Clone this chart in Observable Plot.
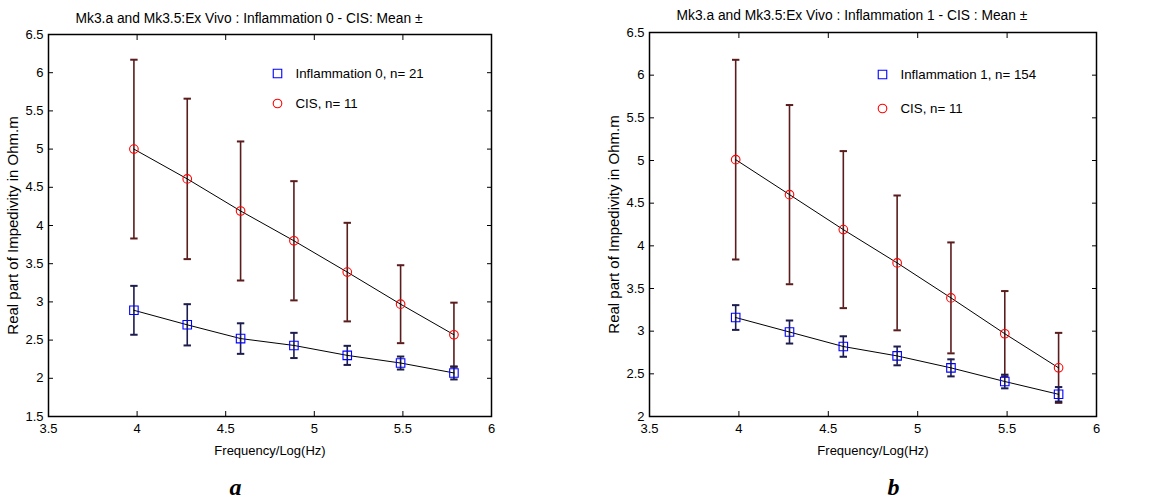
<!DOCTYPE html>
<html><head><meta charset="utf-8">
<script src="https://cdn.jsdelivr.net/npm/d3@7"></script>
<script src="https://cdn.jsdelivr.net/npm/@observablehq/plot@0.6"></script>
<style>
html,body{margin:0;padding:0;background:#fff;}
#wrap{position:relative;width:1156px;height:499px;overflow:hidden;background:#fff;}
#pa{position:absolute;left:0;top:0;}
#pb{position:absolute;left:580px;top:0;}
</style></head><body><div id="wrap"><div id="pa"></div><div id="pb"></div></div>
<script>
// Frequency (log10 Hz) of the seven measurement points
const freqLog = [3.982, 4.283, 4.584, 4.885, 5.186, 5.487, 5.788];
const xTicks = [3.5, 4, 4.5, 5, 5.5, 6];

// Panel a: Inflammation 0 vs CIS
const inflam0Mean = [2.89, 2.70, 2.52, 2.43, 2.30, 2.20, 2.07];
const inflam0Err  = [0.32, 0.27, 0.20, 0.165, 0.125, 0.085, 0.085];
const cisAMean    = [5.00, 4.61, 4.19, 3.80, 3.39, 2.97, 2.57];
const cisAErr     = [1.17, 1.05, 0.91, 0.78, 0.645, 0.51, 0.42];
const yTicksA = [1.5, 2, 2.5, 3, 3.5, 4, 4.5, 5, 5.5, 6, 6.5];

// Panel b: Inflammation 1 vs CIS
const inflam1Mean = [3.16, 2.99, 2.82, 2.71, 2.57, 2.41, 2.26];
const inflam1Err  = [0.145, 0.135, 0.12, 0.11, 0.10, 0.08, 0.085];
const cisBMean    = [5.01, 4.60, 4.19, 3.80, 3.39, 2.97, 2.57];
const cisBErr     = [1.17, 1.05, 0.92, 0.79, 0.65, 0.50, 0.41];
const yTicksB = [2, 2.5, 3, 3.5, 4, 4.5, 5, 5.5, 6, 6.5];

const titleA = "Mk3.a and Mk3.5:Ex Vivo : Inflammation 0 - CIS: Mean \u00b1";
const titleB = "Mk3.a and Mk3.5:Ex Vivo : Inflammation 1 - CIS : Mean \u00b1";
const legendA = ["Inflammation 0, n= 21", "CIS, n= 11"];
const legendB = ["Inflammation 1, n= 154", "CIS, n= 11"];
const xLabel = "Frequency/Log(Hz)";
const yLabel = "Real part of Impedivity in Ohm.m";

const cisBarColor = "#5a1c1c";
const infBarColor = "#1c1c4e";

const capSymbol = {draw(ctx, size) { const w = Math.sqrt(size / Math.PI); ctx.moveTo(-w, 0); ctx.lineTo(w, 0); }};
const fmt = d => String(d);

function rows(means, errs) {
  return freqLog.map((x, i) => ({x, y: means[i], lo: means[i] - errs[i], hi: means[i] + errs[i]}));
}

function errMarks(data, color) {
  return [
    Plot.ruleX(data, {x: "x", y1: "lo", y2: "hi", stroke: color, strokeWidth: 1.6}),
    Plot.dot(data, {x: "x", y: "hi", symbol: capSymbol, r: 3.7, stroke: color, fill: "none", strokeWidth: 2}),
    Plot.dot(data, {x: "x", y: "lo", symbol: capSymbol, r: 3.7, stroke: color, fill: "none", strokeWidth: 2})
  ];
}

function panel(c) {
  const inf = rows(c.infMean, c.infErr);
  const cis = rows(c.cisMean, c.cisErr);
  return Plot.plot({
    width: c.width, height: 499,
    marginLeft: c.ml, marginRight: c.mr, marginTop: c.mt, marginBottom: c.mb,
    x: {domain: [3.5, 6]},
    y: {domain: c.yDomain},
    style: "font-size:13px;font-family:'Liberation Sans',Arial,sans-serif;background:white;color:black;overflow:visible;",
    marks: [
      ...errMarks(cis, cisBarColor),
      ...errMarks(inf, infBarColor),
      Plot.line(cis, {x: "x", y: "y", stroke: "black", strokeWidth: 1}),
      Plot.line(inf, {x: "x", y: "y", stroke: "black", strokeWidth: 1}),
      Plot.dot(inf, {x: "x", y: "y", symbol: "square", r: 4.8, stroke: "#0000ff", fill: "none", strokeWidth: 1.1}),
      Plot.dot(cis, {x: "x", y: "y", symbol: "circle", r: 4.3, stroke: "#ff0000", fill: "none", strokeWidth: 1.1}),
      // legend
      Plot.dot([0], {frameAnchor: "top-left", dx: c.legDx, dy: c.legDy1, symbol: "square", r: 4.8, stroke: "#0000ff", fill: "none", strokeWidth: 1.1}),
      Plot.dot([0], {frameAnchor: "top-left", dx: c.legDx, dy: c.legDy2, symbol: "circle", r: 4.3, stroke: "#ff0000", fill: "none", strokeWidth: 1.1}),
      Plot.text([c.legend[0]], {text: d => d, frameAnchor: "top-left", dx: c.legDx + 18, dy: c.legDy1, textAnchor: "start", lineAnchor: "middle", fontSize: 13.3}),
      Plot.text([c.legend[1]], {text: d => d, frameAnchor: "top-left", dx: c.legDx + 18, dy: c.legDy2, textAnchor: "start", lineAnchor: "middle", fontSize: 13.3}),
      // title, labels, panel letter
      Plot.text([c.title], {text: d => d, frameAnchor: "top-left", dx: 27, dy: c.titleDy, textAnchor: "start", lineAnchor: "middle", fontSize: 13.8}),
      Plot.text([xLabel], {text: d => d, frameAnchor: "bottom", dy: 34, textAnchor: "middle", lineAnchor: "middle", fontSize: 13}),
      Plot.text([yLabel], {text: d => d, frameAnchor: "left", dx: -35, rotate: -90, textAnchor: "middle", lineAnchor: "middle", fontSize: 15}),
      Plot.text([c.letter], {text: d => d, frameAnchor: "bottom-left", dx: c.letDx, dy: c.letDy, textAnchor: "middle", lineAnchor: "bottom", fontSize: 24, fontWeight: "bold", fontStyle: "italic", fontFamily: "'Liberation Serif', 'Times New Roman', serif"}),
      // axes
      Plot.axisX({anchor: "bottom", ticks: xTicks, tickSize: 0, tickPadding: 7, tickFormat: fmt, label: null}),
      Plot.axisX({anchor: "bottom", ticks: xTicks, tickSize: -5, tickFormat: () => "", label: null}),
      Plot.axisX({anchor: "top", ticks: xTicks, tickSize: -5, tickFormat: () => "", label: null}),
      Plot.axisY({anchor: "left", ticks: c.yTicks, tickSize: 0, tickPadding: 5, tickFormat: fmt, label: null}),
      Plot.axisY({anchor: "left", ticks: c.yTicks, tickSize: -5, tickFormat: () => "", label: null}),
      Plot.axisY({anchor: "right", ticks: c.yTicks, tickSize: -5, tickFormat: () => "", label: null}),
      Plot.frame({stroke: "black", strokeWidth: 1.5})
    ]
  });
}

document.getElementById("pa").appendChild(panel({
  width: 580, ml: 48, mr: 89, mt: 34, mb: 83, yDomain: [1.5, 6.5], yTicks: yTicksA,
  infMean: inflam0Mean, infErr: inflam0Err, cisMean: cisAMean, cisErr: cisAErr,
  legend: legendA, legDx: 229, legDy1: 39, legDy2: 69, title: titleA, titleDy: -16,
  letter: "a", letDx: 187, letDy: 78
}));
document.getElementById("pb").appendChild(panel({
  width: 576, ml: 69, mr: 60, mt: 32, mb: 83, yDomain: [2, 6.5], yTicks: yTicksB,
  infMean: inflam1Mean, infErr: inflam1Err, cisMean: cisBMean, cisErr: cisBErr,
  legend: legendB, legDx: 233, legDy1: 42, legDy2: 76, title: titleB, titleDy: -17,
  letter: "b", letDx: 244, letDy: 78
}));
</script></body></html>
